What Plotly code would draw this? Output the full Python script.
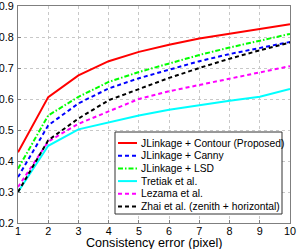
import plotly.graph_objects as go

x = [1, 2, 3, 4, 5, 6, 7, 8, 9, 10]
contour = [0.428, 0.606, 0.676, 0.722, 0.752, 0.775, 0.795, 0.811, 0.826, 0.841]
canny = [0.348, 0.515, 0.586, 0.634, 0.667, 0.695, 0.722, 0.745, 0.765, 0.784]
lsd = [0.375, 0.547, 0.607, 0.655, 0.687, 0.714, 0.742, 0.766, 0.789, 0.810]
tretiak = [0.300, 0.449, 0.502, 0.525, 0.547, 0.565, 0.580, 0.594, 0.607, 0.632]
lezama = [0.316, 0.463, 0.520, 0.560, 0.600, 0.625, 0.645, 0.665, 0.686, 0.706]
zhai = [0.300, 0.467, 0.537, 0.596, 0.632, 0.668, 0.700, 0.730, 0.757, 0.782]

names = ["JLinkage + Contour (Proposed)", "JLinkage + Canny", "JLinkage + LSD",
         "Tretiak et al.", "Lezama et al.", "Zhai et al. (zenith + horizontal)"]
colors = ["#ff0000", "#0000ff", "#00ff00", "#00ffff", "#ff00ff", "#000000"]
dashes = ["solid", "4px,3px", "5px,2px,1.5px,2px", "solid", "4px,3px", "4px,3px"]
values = [contour, canny, lsd, tretiak, lezama, zhai]
x_title = "Consistency error (pixel)"

W, H = 301, 249
ML, MR, MT, MB = 18, 11, 6, 26
PW, PH = W - ML - MR, H - MT - MB
FONT = "Liberation Sans, Arial, sans-serif"


def px2x(p):
    return (p - ML) / PW


def px2y(p):
    return 1 - (p - MT) / PH


fig = go.Figure()
for name, ys, color, dash in zip(names, values, colors, dashes):
    fig.add_trace(go.Scatter(x=x, y=ys, mode="lines", name=name, showlegend=False,
                             line=dict(color=color, width=2, dash=dash)))

axis_common = dict(showgrid=True, gridcolor="#c8c8c8", griddash="dot", gridwidth=1,
                   showline=True, linecolor="#7f7f7f", linewidth=1, mirror=True,
                   ticks="inside", ticklen=3, tickcolor="#7f7f7f", zeroline=False,
                   automargin=False, ticklabeloverflow="allow",
                   tickfont=dict(family=FONT, size=10.8, color="#000"))

fig.update_xaxes(range=[1, 10], tickvals=x, ticklabelstandoff=-2, **axis_common)
fig.update_yaxes(range=[0.2, 0.9], tickvals=[0.2, 0.3, 0.4, 0.5, 0.6, 0.7, 0.8, 0.9],
                 ticktext=["0.2", "0.3", "0.4", "0.5", "0.6", "0.7", "0.8", "0.9"],
                 ticklabelstandoff=1,
                 **axis_common)

# manual legend and axis title (layout only)
shapes = [dict(type="rect", xref="paper", yref="paper",
               x0=px2x(115), x1=px2x(282), y0=px2y(214), y1=px2y(132),
               line=dict(color="#333333", width=1), fillcolor="white", layer="above")]
annotations = [dict(xref="paper", yref="paper", x=0.5, y=px2y(242.5),
                    xanchor="center", yanchor="middle", showarrow=False, text=x_title,
                    font=dict(family=FONT, size=12.6, color="#000"))]
y0, step = 143, 12.7
for i, (name, color, dash) in enumerate(zip(names, colors, dashes)):
    yy = px2y(y0 + i * step)
    shapes.append(dict(type="line", xref="paper", yref="paper",
                       x0=px2x(118), x1=px2x(137), y0=yy, y1=yy, layer="above",
                       line=dict(color=color, width=2, dash=dash)))
    annotations.append(dict(xref="paper", yref="paper", x=px2x(138.5), y=yy,
                            xanchor="left", yanchor="middle", showarrow=False,
                            text=name, font=dict(family=FONT, size=10.3, color="#000")))

fig.update_layout(
    width=W, height=H,
    margin=dict(l=ML, r=MR, t=MT, b=MB, autoexpand=False),
    paper_bgcolor="white", plot_bgcolor="white",
    showlegend=False, shapes=shapes, annotations=annotations,
)

fig.write_html("out.html", config={"displayModeBar": False},
               post_script="document.body.style.margin='0';document.body.style.overflow='hidden';")
